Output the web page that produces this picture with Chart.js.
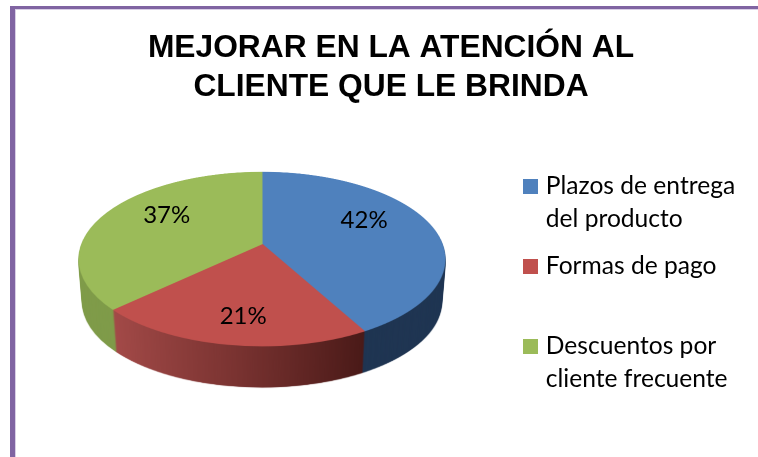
<!DOCTYPE html>
<html><head><meta charset="utf-8">
<style>html,body{margin:0;padding:0;background:#fff;overflow:hidden}canvas{display:block}</style>
<script src="https://cdn.jsdelivr.net/npm/chart.js@4/dist/chart.umd.js"></script>
</head><body><canvas id="c" width="758" height="457"></canvas>
<script>
const titleLines = ['MEJORAR EN LA ATENCIÓN AL', 'CLIENTE QUE LE BRINDA'];
const categories = [['Plazos de entrega', 'del producto'], ['Formas de pago', ' '], ['Descuentos por', 'cliente frecuente']];
const values = [42, 21, 37];
const faceColors = ['#4F81BD', '#C0504D', '#9BBB59'];

// Perspective of the tilted disc
const P = {cx: 262, cy: 244, R0: 180.2, A: 84.4, k: 0.172, depth: 43, shrink: 0.02, mid: 258};
const labelNudgeY = [-11, 17, -9];
const SUB = 2, S = 300, M = 306;

function makeSource(els, colorFor) {
  const c = document.createElement('canvas'); c.width = c.height = M * 2;
  const x = c.getContext('2d');
  els.forEach((el, i) => {
    const s = S / el.outerRadius;
    x.save();
    x.translate(M, M); x.scale(s, s); x.translate(-el.x, -el.y);
    const o = el.options, col = colorFor(i, x, el, s);
    el.options = Object.assign({}, o, {backgroundColor: col, borderColor: col});
    el.draw(x);
    el.options = o;
    x.restore();
  });
  return c;
}
function warp(src, W, H) {
  const c = document.createElement('canvas'); c.width = W * SUB; c.height = H * SUB;
  const x = c.getContext('2d');
  x.imageSmoothingQuality = 'high';
  const vAt = y => { const Y = y - P.cy; return Y / (P.A + P.k * Y); };
  for (let r = 0; r < H * SUB; r++) {
    const v = vAt(r / SUB), v2 = vAt((r + 1) / SUB);
    if (v2 < -1.01 || v > 1.01) continue;
    const w = 1 / (1 - P.k * (v + v2) / 2) * P.R0 * M / S;
    x.drawImage(src, 0, M + S * v, M * 2, S * (v2 - v), (P.cx - w) * SUB, r, 2 * w * SUB, 1);
  }
  return c;
}
const project = (u, v) => {
  const d = 1 - P.k * v;
  return {x: P.cx + P.R0 * u / d, y: P.cy + P.A * v / d};
};
const swatches = faceColors.map(col => {
  const c = document.createElement('canvas'); c.width = c.height = 15;
  const x = c.getContext('2d'); x.fillStyle = col; x.fillRect(0, 0, 15, 15);
  return c;
});

const disc3d = {
  id: 'disc3d',
  beforeDraw(chart) {
    const c = chart.ctx, W = chart.width, H = chart.height;
    c.save();
    c.fillStyle = '#fff'; c.fillRect(0, 0, W, H);
    c.fillStyle = '#D9CFE6'; c.fillRect(15, 9, 1, H); c.fillRect(10, 9, W, 1);
    c.fillStyle = '#8064A2'; c.fillRect(10, 6, 5, H); c.fillRect(10, 6, W, 3);
    c.restore();
  },
  afterLayout(chart) {
    const lg = chart.legend;
    const w = lg.right - lg.left;
    lg.left = 512.5; lg.right = lg.left + w; lg.top = 160; lg.bottom = 440;
  },
  beforeDatasetsDraw(chart) {
    const c = chart.ctx, W = chart.width, H = chart.height;
    const els = chart.getDatasetMeta(0).data;
    const face = warp(makeSource(els, i => faceColors[i]), W, H);
    const wall = warp(makeSource(els, (i, x, el, s) => {
      if (i === 0) return '#1F3552';
      if (i === 2) return '#7F9B49';
      const r = el.outerRadius;
      const g = x.createLinearGradient(el.x - 0.73 * r, 0, el.x + 0.48 * r, 0);
      g.addColorStop(0, '#A34A48'); g.addColorStop(0.5, '#7A3331'); g.addColorStop(1, '#4A1A18');
      return g;
    }), W, H);
    c.save();
    c.imageSmoothingQuality = 'high';
    for (let d = P.depth; d >= 1; d--) {
      const e = 1 - P.shrink * d / P.depth;
      c.drawImage(wall, P.cx - P.cx * e, P.mid + d - P.mid * e, W * e, H * e);
    }
    c.drawImage(face, 0, 0, W, H);
    c.fillStyle = '#000';
    c.font = '24px Lato';
    c.textAlign = 'center'; c.textBaseline = 'middle';
    els.forEach((el, i) => {
      const a = (el.startAngle + el.endAngle) / 2;
      const p = project(0.6 * Math.cos(a), 0.6 * Math.sin(a));
      c.fillText(values[i] + '%', p.x, p.y + labelNudgeY[i]);
    });
    c.restore();
    return false;
  }
};

new Chart(document.getElementById('c'), {
  type: 'pie',
  data: {labels: categories, datasets: [{data: values, backgroundColor: faceColors, borderColor: faceColors, borderWidth: 1}]},
  plugins: [disc3d],
  options: {
    responsive: false, animation: false,
    layout: {padding: {left: 24, top: 19}},
    plugins: {
      title: {display: true, text: titleLines, color: '#000', align: 'center', font: {family: 'Liberation Sans', size: 31.75, weight: 'bold', lineHeight: 1.23}},
      legend: {position: 'right', align: 'start', labels: {
        color: '#000', usePointStyle: true, boxWidth: 7, boxHeight: 15, padding: 14,
        font: {family: 'Lato', size: 24.6, lineHeight: 1.34},
        generateLabels: () => categories.map((text, i) => ({text, fillStyle: faceColors[i], strokeStyle: faceColors[i], lineWidth: 0, pointStyle: swatches[i], index: i, hidden: false, fontColor: '#000'}))
      }},
      tooltip: {enabled: false}
    }
  }
});
</script></body></html>
